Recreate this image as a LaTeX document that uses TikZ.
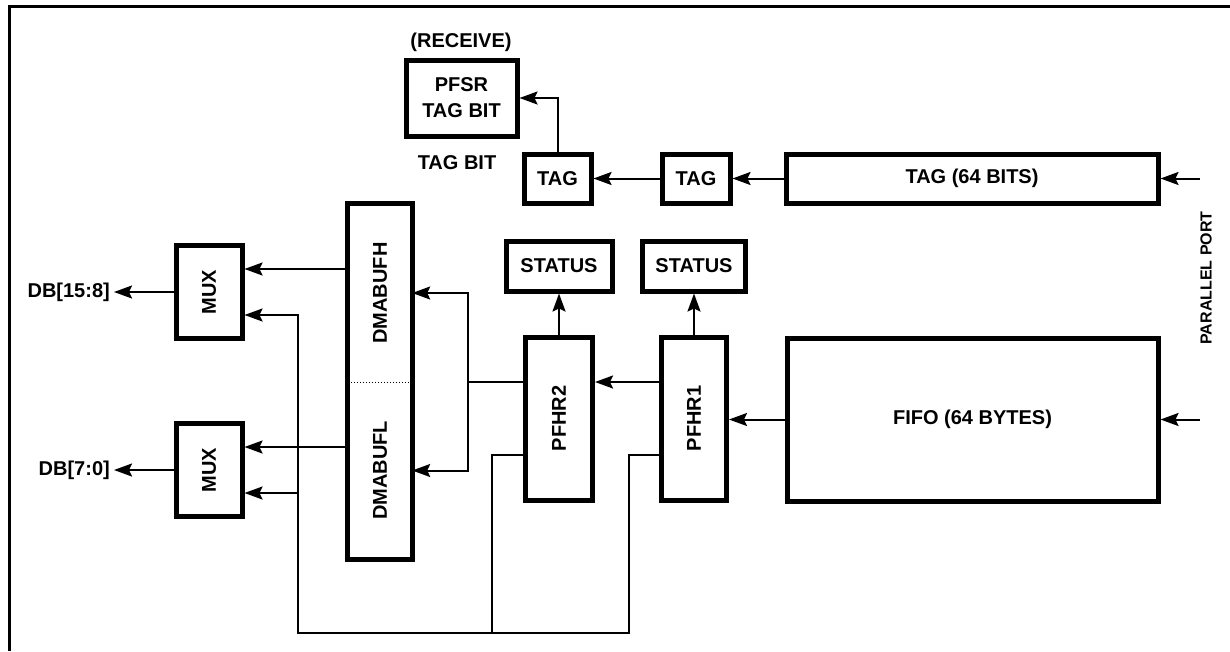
\documentclass[tikz,border=0pt]{standalone}
\usepackage{fontspec}
\usepackage{graphicx}
\setmainfont{Liberation Sans}
\usetikzlibrary{arrows.meta}
\tikzset{blk/.style={draw,line width=5pt,inner sep=0pt,align=center},
 bus/.style={line width=2pt},
 sig/.style={bus,-{Stealth[length=18pt,width=13pt,inset=3pt]}},
 every node/.style={font=\bfseries\fontsize{20}{26}\selectfont}}

\begin{document}
\begin{tikzpicture}[x=1pt,y=-1pt]
\useasboundingbox (0,0) rectangle (1230,651);
\draw[line width=3pt] (9,651)--(9,6)--(1230,6);
% tag path
\node at (461,42) {(RECEIVE)};
\node[blk,minimum width=111,minimum height=76] (pfsr) at (461.5,98) {PFSR\\TAG BIT};
\node at (457,163) {TAG BIT};
\node[blk,minimum width=67,minimum height=49] (tag1) at (557.5,178.5) {TAG};
\node[blk,minimum width=68,minimum height=49] (tag2) at (696,178.5) {TAG};
\node[blk,minimum width=372,minimum height=49] (tag64) at (972,178.5) {TAG (64 BITS)};
\coordinate (ptag) at (1200,178.5);
\draw[sig] (ptag)--(tag64);
\draw[sig] (tag64)--(tag2);
\draw[sig] (tag2)--(tag1);
\draw[sig] (tag1.north) |- (pfsr);
\node[rotate=90,font=\bfseries\fontsize{16}{20}\selectfont] (port) at (1206,278) {PARALLEL PORT};
% data path
\node[blk,minimum width=371,minimum height=163] (fifo) at (972.5,419.5) {FIFO (64 BYTES)};
\coordinate (pfifo) at (1200,419.5);
\draw[sig] (pfifo)--(fifo);
\node[blk,minimum width=65,minimum height=163] (pfhr1) at (694,418.5) {\rotatebox{90}{PFHR1}};
\node[blk,minimum width=67,minimum height=163] (pfhr2) at (559,418.5) {\rotatebox{90}{PFHR2}};
\node[blk,minimum width=103,minimum height=50] (stat1) at (694,266) {STATUS};
\node[blk,minimum width=106,minimum height=50] (stat2) at (559,266) {STATUS};
\draw[sig] (fifo.west)--(fifo.west -| pfhr1.east);
\draw[sig] (pfhr1)--(stat1);
\draw[sig] (pfhr2)--(stat2);
\node[inner sep=0pt,minimum width=64,minimum height=178] (dmah) at (380,293) {\rotatebox{90}{DMABUFH}};
\node[inner sep=0pt,minimum width=64,minimum height=177] (dmal) at (380,470.5) {\rotatebox{90}{DMABUFL}};
\draw[line width=5pt] (dmah.north west) rectangle (dmal.south east);
\draw[dotted,line width=1pt] (dmah.south west)--(dmah.south east);
\coordinate (split) at (468,382);
\draw[sig] (pfhr1.west |- split)--(pfhr2.east |- split);
\draw[bus] (pfhr2.west |- split)--(split);
\draw[sig] (split) |- (dmah);
\draw[sig] (split) |- (dmal);
% output muxes
\node[blk,minimum width=66,minimum height=93] (mux1) at (209,292) {\rotatebox{90}{MUX}};
\node[blk,minimum width=66,minimum height=93] (mux2) at (209,470) {\rotatebox{90}{MUX}};
\foreach \m in {mux1,mux2}{
  \coordinate (\m a) at ([yshift=23pt]\m.east);
  \coordinate (\m b) at ([yshift=-23pt]\m.east);
}
\node[anchor=east,inner sep=4pt] (db1) at (114,292) {DB[15:8]};
\node[anchor=east,inner sep=4pt] (db2) at (114,470) {DB[7:0]};
\draw[sig] (mux1)--(db1);
\draw[sig] (mux2)--(db2);
\draw[sig] (dmah.west |- mux1a)--(mux1a);
\draw[sig] (dmal.west |- mux2a)--(mux2a);
% feedback bus
\coordinate (t1) at ([yshift=-36.5pt]pfhr1.west);
\coordinate (t2) at ([yshift=-36.5pt]pfhr2.west);
\coordinate (busl) at (298,633);
\coordinate (bus1) at (629,633);
\coordinate (bus2) at (492,633);
\draw[sig] (t1) -| (bus1)--(busl) |- (mux1b);
\draw[bus] (t2) -| (bus2);
\draw[sig] (busl |- mux2b)--(mux2b);
\end{tikzpicture}
\end{document}
